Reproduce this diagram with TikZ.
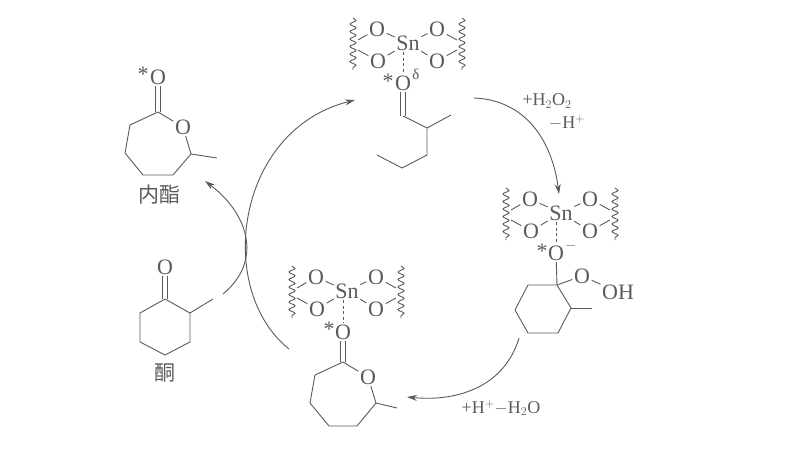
\documentclass[tikz,border=0pt]{standalone}
\usepackage{fontspec}
\setmainfont{Liberation Serif}
\newfontfamily\cjk{Noto Sans CJK SC}
\usetikzlibrary{arrows.meta,decorations.pathmorphing}
\definecolor{ink}{HTML}{5A5A5A}
\tikzset{
  atom/.style={inner sep=1.5pt,text=ink,font=\fontsize{22}{22}\selectfont},
  note/.style={inner sep=0pt,text=ink,font=\fontsize{18}{18}\selectfont},
  hanzi/.style={inner sep=0pt,text=ink,font=\cjk\fontsize{21}{21}\selectfont},
  bond/.style={draw=ink,line width=0.9pt,line join=round},
  dashbond/.style={draw=ink,line width=0.9pt,dash pattern=on 3pt off 2.5pt},
  wavy/.style={draw=ink,line width=0.9pt,decorate,decoration={snake,segment length=7.5pt,amplitude=3pt}},
  cycle/.style={draw=ink,line width=0.9pt,-{Stealth[length=10pt,width=6pt]}}
}
% two parallel strokes, from an atom down to a carbon
\newcommand{\cobond}[2]{
  \draw[bond] ([xshift=-2.2pt]#1.south) -- ([xshift=-2.2pt]#2);
  \draw[bond] ([xshift=2.2pt]#1.south) -- ([xshift=2.2pt]#2);
}
% Sn centre with four O and two wavy ends
\newcommand{\sncluster}[3]{
  \begin{scope}[shift={(#2,#3)}]
    \node[atom] (#1sn) at (0,0) {Sn};
    \node[atom] (#1ul) at (-31,-14) {O};
    \node[atom] (#1ur) at (29,-14) {O};
    \node[atom] (#1ll) at (-30,18) {O};
    \node[atom] (#1lr) at (29,18) {O};
    \coordinate (#1wa) at (-50,-3);
    \coordinate (#1wb) at (-50,7);
    \coordinate (#1wc) at (49,-3);
    \coordinate (#1wd) at (49,7);
    \coordinate (#1ta) at (-55,-25);
    \coordinate (#1tb) at (-55,27);
    \coordinate (#1tc) at (54,-25);
    \coordinate (#1td) at (54,27);
    \draw[bond] (#1wa) -- (#1ul) -- (#1sn) -- (#1lr) -- (#1wd);
    \draw[bond] (#1wb) -- (#1ll) -- (#1sn) -- (#1ur) -- (#1wc);
    \draw[wavy] (#1ta) -- (#1tb);
    \draw[wavy] (#1tc) -- (#1td);
  \end{scope}
}
\begin{document}
\begin{tikzpicture}[x=1pt,y=-1pt]
  \useasboundingbox (0,0) rectangle (797,465);

  % top complex
  \sncluster{a}{408}{43}
  \node[atom] (aox) at (403,83) {O};
  \node[atom] (astar) at (388,81) {*};
  \node[atom,font=\fontsize{15}{15}\selectfont] (adelta) at (416,74) {δ};
  \coordinate (ac1) at (403,116);
  \coordinate (ac2) at (427,128);
  \coordinate (ac3) at (451,115);
  \coordinate (ac4) at (427,155);
  \coordinate (ac5) at (402,168);
  \coordinate (ac6) at (377,155);
  \draw[dashbond] (asn.south -| aox) -- (aox);
  \cobond{aox}{ac1}
  \draw[bond] (ac1) -- (ac2) -- (ac3);
  \draw[bond] (ac2) -- (ac4) -- (ac5) -- (ac6);

  % right complex
  \sncluster{b}{561}{213}
  \node[atom] (box) at (556,253) {O};
  \node[atom] (bstar) at (542,251) {*};
  \node[atom,font=\fontsize{14}{14}\selectfont] (bminus) at (571,246) {$-$};
  \node[atom] (bo) at (582,276) {O};
  \node[atom] (boh) at (618,292) {OH};
  \coordinate (bc1) at (557,285);
  \coordinate (bc2) at (528,285);
  \coordinate (bc3) at (515,310);
  \coordinate (bc4) at (528,333);
  \coordinate (bc5) at (558,333);
  \coordinate (bc6) at (571,308);
  \coordinate (bme) at (592,308);
  \draw[dashbond] (bsn.south -| box) -- (box);
  \draw[bond] (box) -- (bc1);
  \draw[bond] (bc1) -- (bc2) -- (bc3) -- (bc4) -- (bc5) -- (bc6) -- (bc1);
  \draw[bond] (bc6) -- (bme);
  \draw[bond] (bc1) -- (bo) -- (boh);

  % bottom complex
  \sncluster{c}{347}{291}
  \node[atom] (cox) at (343,332) {O};
  \node[atom] (cstar) at (329,329) {*};
  \node[atom] (co) at (368,377) {O};
  \coordinate (cc1) at (343,362);
  \coordinate (cc2) at (376,403);
  \coordinate (cme) at (397,408);
  \coordinate (cc3) at (357,426);
  \coordinate (cc4) at (329,426);
  \coordinate (cc5) at (310,403);
  \coordinate (cc6) at (315,375);
  \draw[dashbond] (csn.south -| cox) -- (cox);
  \cobond{cox}{cc1}
  \draw[bond] (cc1) -- (co) -- (cc2) -- (cc3) -- (cc4) -- (cc5) -- (cc6) -- (cc1);
  \draw[bond] (cc2) -- (cme);

  % lactone
  \node[atom] (lox) at (158,77) {O};
  \node[atom] (lstar) at (143,74) {*};
  \node[atom] (lo) at (183,127) {O};
  \coordinate (lc1) at (158,112);
  \coordinate (lc2) at (191,154);
  \coordinate (lme) at (217,158);
  \coordinate (lc3) at (173,175);
  \coordinate (lc4) at (143,175);
  \coordinate (lc5) at (125,153);
  \coordinate (lc6) at (130,125);
  \cobond{lox}{lc1}
  \draw[bond] (lc1) -- (lo) -- (lc2) -- (lc3) -- (lc4) -- (lc5) -- (lc6) -- (lc1);
  \draw[bond] (lc2) -- (lme);
  \node[hanzi] (lname) at (159,195) {内酯};

  % ketone
  \node[atom] (kox) at (165,267) {O};
  \coordinate (kc1) at (165,299);
  \coordinate (kc2) at (190,313);
  \coordinate (kme) at (213,299);
  \coordinate (kc3) at (190,342);
  \coordinate (kc4) at (165,355);
  \coordinate (kc5) at (140,342);
  \coordinate (kc6) at (140,313);
  \cobond{kox}{kc1}
  \draw[bond] (kc1) -- (kc2) -- (kc3) -- (kc4) -- (kc5) -- (kc6) -- (kc1);
  \draw[bond] (kc2) -- (kme);
  \node[hanzi] (kname) at (165,373) {酮};

  % arrows of the cycle
  \coordinate (ra) at (289,349);
  \coordinate (rb) at (355,100);
  \coordinate (sa) at (223,294);
  \coordinate (sb) at (205,181);
  \coordinate (ta) at (474,98);
  \coordinate (tb) at (559,194);
  \coordinate (ua) at (519,338);
  \coordinate (ub) at (407,397);
  \draw[cycle] (ra) .. controls (215,290) and (235,130) .. (rb);
  \draw[cycle] (sa) .. controls (262,262) and (250,215) .. (sb);
  \draw[cycle] (ta) .. controls (525,100) and (552,140) .. (tb);
  \draw[cycle] (ua) .. controls (505,385) and (460,402) .. (ub);

  \node[note] (tadd) at (547,101) {+H$_2$O$_2$};
  \node[note] (tloss) at (567,123) {$-$H$^+$};
  \node[note] (uadd) at (501,408) {+H$^+$$-$H$_2$O};
\end{tikzpicture}
\end{document}
